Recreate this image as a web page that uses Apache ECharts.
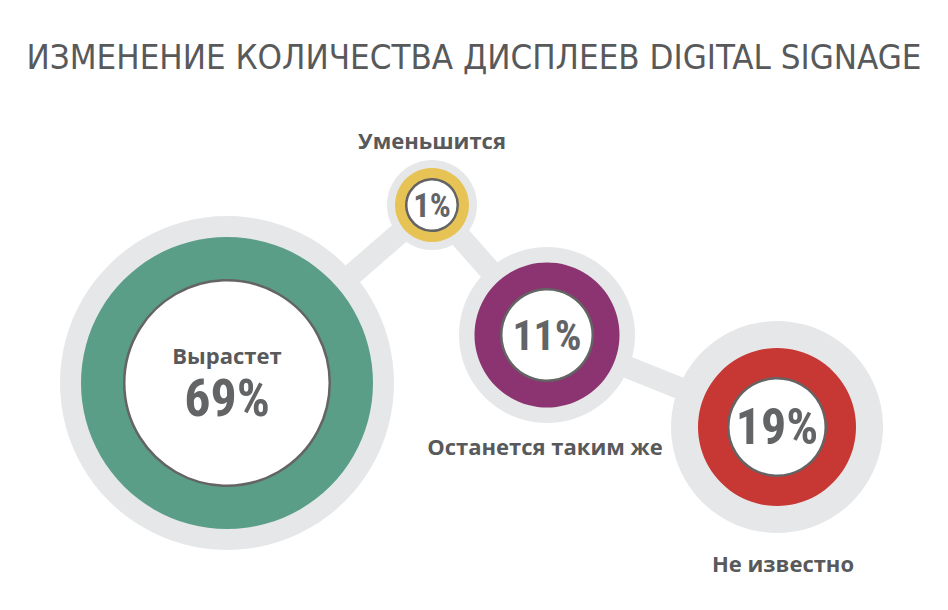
<!DOCTYPE html>
<html>
<head>
<meta charset="utf-8">
<script src="https://cdn.jsdelivr.net/npm/echarts@6/dist/echarts.min.js"></script>
<style>
html,body{margin:0;padding:0;background:#fff;}
#c{width:948px;height:610px;}
</style>
</head>
<body>
<div id="c"></div>
<script>
// ---- data ----
var categories = ['Вырастет', 'Уменьшится', 'Останется таким же', 'Не известно'];
var values = [69, 1, 11, 19];
var colors = ['#5a9e88', '#e7c355', '#8b3471', '#c73733'];
var titleText = 'ИЗМЕНЕНИЕ КОЛИЧЕСТВА ДИСПЛЕЕВ DIGITAL SIGNAGE';

// ---- layout (pixel positions / sizes of the bubbles) ----
var centersX = [227, 432, 547, 777];
var centersY = [383, 205, 335, 427];
var rGrey = [167, 45, 88, 106];
var rColor = [146, 37, 72.5, 79];
var rInner = [104, 27, 47, 50];
var valueFont = [52, 33, 42, 50];
var nameLabelPos = [null, 'top', 'bottom', 'bottom'];
var nameLabelDist = [0, 9, 12, 19];
var nameLabelOffset = [[0,0],[0,0],[-2,0],[6,0]];

var TXT = '#58595b';
var GREY = '#e6e7e8';
var NARROW = "'Roboto Condensed','Liberation Sans Narrow','Roboto',sans-serif";
var TITLEF = "'Liberation Sans Narrow','DejaVu Sans Condensed',sans-serif";
var BOLD = "'Open Sans','Roboto',sans-serif";

function pts() {
  return categories.map(function (c, i) { return [centersX[i], centersY[i]]; });
}

var greyData = categories.map(function (c, i) {
  var d = { name: c, value: [centersX[i], centersY[i], values[i]], symbolSize: rGrey[i] * 2 };
  if (nameLabelPos[i]) {
    d.label = {
      show: true, position: nameLabelPos[i], distance: nameLabelDist[i], offset: nameLabelOffset[i],
      formatter: '{b}', color: TXT, fontFamily: BOLD, fontWeight: 'bold', fontSize: 22
    };
  }
  return d;
});
var colorData = categories.map(function (c, i) {
  return { name: c, value: [centersX[i], centersY[i], values[i]], symbolSize: rColor[i] * 2, itemStyle: { color: colors[i] } };
});
var innerData = categories.map(function (c, i) {
  var d = { name: c, value: [centersX[i], centersY[i], values[i]], symbolSize: (rInner[i] - 1.25) * 2 };
  if (i === 0) {
    d.label = {
      show: true, position: 'inside',
      formatter: '{n|' + c + '}\n{v|' + values[i] + '%}',
      rich: {
        n: { fontFamily: BOLD, fontWeight: 'bold', fontSize: 22, lineHeight: 30, color: TXT, align: 'center' },
        v: { fontFamily: NARROW, fontWeight: 'bold', fontSize: valueFont[i], lineHeight: 56, color: '#636466', align: 'center' }
      }
    };
  } else {
    d.label = {
      show: true, position: 'inside', formatter: values[i] + '%',
      fontFamily: NARROW, fontWeight: 'bold', fontSize: valueFont[i], color: '#636466'
    };
  }
  return d;
});

var chart = echarts.init(document.getElementById('c'), null, { renderer: 'svg' });
chart.setOption({
  animation: false,
  backgroundColor: '#fff',
  title: {
    text: titleText, left: 'center', top: 34,
    textStyle: { fontFamily: TITLEF, fontWeight: 'normal', fontSize: 34.6, color: '#58595b' }
  },
  grid: { left: 0, right: 0, top: 0, bottom: 0 },
  xAxis: { type: 'value', min: 0, max: 948, show: false },
  yAxis: { type: 'value', min: 0, max: 610, inverse: true, show: false },
  series: [
    {
      type: 'line', data: pts(), symbol: 'none', silent: true, z: 1,
      lineStyle: { color: GREY, width: 22 }
    },
    {
      type: 'scatter', data: greyData, z: 2, silent: true,
      itemStyle: { color: GREY, opacity: 1 }
    },
    {
      type: 'scatter', data: colorData, z: 3, silent: true,
      itemStyle: { opacity: 1 }
    },
    {
      type: 'scatter', data: innerData, z: 4, silent: true,
      itemStyle: { color: '#ffffff', borderColor: '#646464', borderWidth: 2.5, opacity: 1 }
    }
  ]
});
</script>
</body>
</html>
